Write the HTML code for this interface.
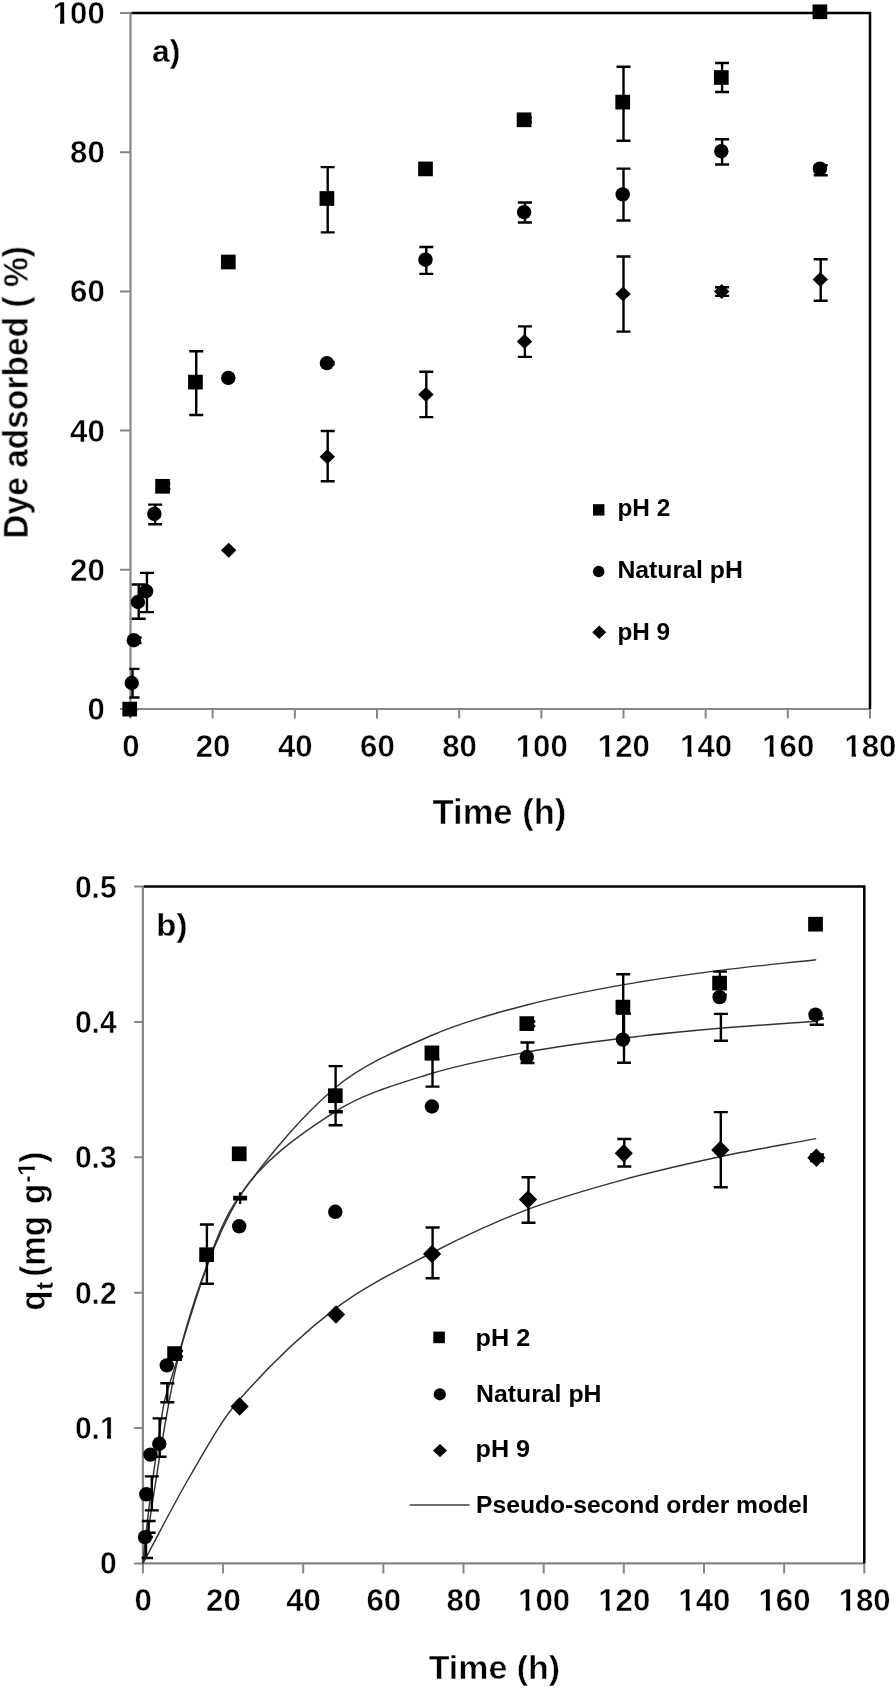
<!DOCTYPE html>
<html><head><meta charset="utf-8"><title>chart</title>
<style>html,body{margin:0;padding:0;background:#fff}svg{display:block}text{font-family:"Liberation Sans",sans-serif;fill:#000}</style>
</head><body>
<svg width="896" height="1688" viewBox="0 0 896 1688">
<defs>
<clipPath id="cpA"><rect x="129.3" y="0" width="760" height="730"/></clipPath>
<clipPath id="cpB"><rect x="141.7" y="870" width="760" height="720"/></clipPath>
<clipPath id="c1f"><path d="M-5 -40H200V-4.1H-5ZM7.0 -4.3H11.12V2H7.0ZM16.7 -4.3H200V12H16.7Z"/></clipPath>
<clipPath id="c1l"><path d="M-5 -40H200V-4.1H-5ZM-5 -4.3H25.2V12H-5ZM32.02 -4.3H36.14V2H32.02Z"/></clipPath>
</defs>
<filter id="soft" x="0" y="0" width="896" height="1688" filterUnits="userSpaceOnUse"><feGaussianBlur stdDeviation="0.7"/></filter>
<rect width="896" height="1688" fill="#fff"/>
<g filter="url(#soft)">
<g id="plotA">
<path d="M130.5 12.0V710.0" stroke="#868686" stroke-width="2.2" fill="none"/>
<path d="M129.5 709.0H870.0" stroke="#868686" stroke-width="2.2" fill="none"/>
<path d="M120.0 709.00H130.5M120.0 569.80H130.5M120.0 430.60H130.5M120.0 291.40H130.5M120.0 152.20H130.5M120.0 13.00H130.5M130.50 709.0V718.5M212.67 709.0V718.5M294.83 709.0V718.5M377.00 709.0V718.5M459.17 709.0V718.5M541.33 709.0V718.5M623.50 709.0V718.5M705.67 709.0V718.5M787.83 709.0V718.5M870.00 709.0V718.5" stroke="#868686" stroke-width="2" fill="none"/>
<path d="M131.5 13.0H870.0V709.0" stroke="#000" stroke-width="2.5" fill="none" stroke-linejoin="miter"/>
<text transform="translate(87.45,719.90) scale(1.0400,1.0300)" font-size="30" font-weight="bold" stroke="#fff" stroke-width="0.45">0</text>
<text transform="translate(70.10,580.70) scale(1.0400,1.0300)" font-size="30" font-weight="bold" stroke="#fff" stroke-width="0.45">20</text>
<text transform="translate(70.10,441.50) scale(1.0400,1.0300)" font-size="30" font-weight="bold" stroke="#fff" stroke-width="0.45">40</text>
<text transform="translate(70.10,302.30) scale(1.0400,1.0300)" font-size="30" font-weight="bold" stroke="#fff" stroke-width="0.45">60</text>
<text transform="translate(70.10,163.10) scale(1.0400,1.0300)" font-size="30" font-weight="bold" stroke="#fff" stroke-width="0.45">80</text>
<text transform="translate(52.75,23.90) scale(1.0400,1.0300)" font-size="30" font-weight="bold" clip-path="url(#c1f)" stroke="#fff" stroke-width="0.45">100</text>
<text transform="translate(122.22,756.80) scale(1.0400,1.0300)" font-size="30" font-weight="bold" stroke="#fff" stroke-width="0.45">0</text>
<text transform="translate(195.72,756.80) scale(1.0400,1.0300)" font-size="30" font-weight="bold" stroke="#fff" stroke-width="0.45">20</text>
<text transform="translate(277.88,756.80) scale(1.0400,1.0300)" font-size="30" font-weight="bold" stroke="#fff" stroke-width="0.45">40</text>
<text transform="translate(360.05,756.80) scale(1.0400,1.0300)" font-size="30" font-weight="bold" stroke="#fff" stroke-width="0.45">60</text>
<text transform="translate(442.22,756.80) scale(1.0400,1.0300)" font-size="30" font-weight="bold" stroke="#fff" stroke-width="0.45">80</text>
<text transform="translate(515.71,756.80) scale(1.0400,1.0300)" font-size="30" font-weight="bold" clip-path="url(#c1f)" stroke="#fff" stroke-width="0.45">100</text>
<text transform="translate(597.87,756.80) scale(1.0400,1.0300)" font-size="30" font-weight="bold" clip-path="url(#c1f)" stroke="#fff" stroke-width="0.45">120</text>
<text transform="translate(680.04,756.80) scale(1.0400,1.0300)" font-size="30" font-weight="bold" clip-path="url(#c1f)" stroke="#fff" stroke-width="0.45">140</text>
<text transform="translate(762.21,756.80) scale(1.0400,1.0300)" font-size="30" font-weight="bold" clip-path="url(#c1f)" stroke="#fff" stroke-width="0.45">160</text>
<text transform="translate(844.37,756.80) scale(1.0400,1.0300)" font-size="30" font-weight="bold" clip-path="url(#c1f)" stroke="#fff" stroke-width="0.45">180</text>
<text transform="translate(432.55,823.80) scale(1.1522,1.1401)" font-size="30.0" font-weight="bold" stroke="#fff" stroke-width="0.45">Time (h)</text>
<text transform="translate(27.3,538.68) rotate(-90) scale(1.1185,1.1787)" font-size="30.0" font-weight="bold" stroke="#fff" stroke-width="0.45">Dye adsorbed ( %)</text>
<text transform="translate(152.04,61.60) scale(1.0617,1.0725)" font-size="30.0" font-weight="bold" stroke="#fff" stroke-width="0.3">a)</text>
<path d="M130.10 702.50L137.80 710.00L130.10 717.50L122.40 710.00Z" fill="#000"/>
<path d="M228.70 542.70L236.40 550.20L228.70 557.70L221.00 550.20Z" fill="#000"/>
<path clip-path="url(#cpA)" d="M327.70 431.00V481.20M320.70 431.00H334.70M320.70 481.20H334.70" stroke="#000" stroke-width="2.4" fill="none"/>
<path d="M327.30 449.30L335.00 456.80L327.30 464.30L319.60 456.80Z" fill="#000"/>
<path clip-path="url(#cpA)" d="M426.30 371.80V417.10M419.30 371.80H433.30M419.30 417.10H433.30" stroke="#000" stroke-width="2.4" fill="none"/>
<path d="M425.90 386.90L433.60 394.40L425.90 401.90L418.20 394.40Z" fill="#000"/>
<path clip-path="url(#cpA)" d="M524.90 326.40V356.90M517.90 326.40H531.90M517.90 356.90H531.90" stroke="#000" stroke-width="2.4" fill="none"/>
<path d="M524.50 334.00L532.20 341.50L524.50 349.00L516.80 341.50Z" fill="#000"/>
<path clip-path="url(#cpA)" d="M623.50 256.50V331.60M616.50 256.50H630.50M616.50 331.60H630.50" stroke="#000" stroke-width="2.4" fill="none"/>
<path d="M623.10 286.40L630.80 293.90L623.10 301.40L615.40 293.90Z" fill="#000"/>
<path clip-path="url(#cpA)" d="M722.10 287.20V295.90M715.10 287.20H729.10M715.10 295.90H729.10" stroke="#000" stroke-width="2.4" fill="none"/>
<path d="M721.70 284.10L729.40 291.60L721.70 299.10L714.00 291.60Z" fill="#000"/>
<path clip-path="url(#cpA)" d="M820.70 259.30V300.70M813.70 259.30H827.70M813.70 300.70H827.70" stroke="#000" stroke-width="2.4" fill="none"/>
<path d="M820.30 272.10L828.00 279.60L820.30 287.10L812.60 279.60Z" fill="#000"/>
<path clip-path="url(#cpA)" d="M132.55 668.90V697.50M125.55 668.90H139.55M125.55 697.50H139.55" stroke="#000" stroke-width="2.4" fill="none"/>
<circle cx="131.75" cy="683.00" r="7.2" fill="#000"/>
<path clip-path="url(#cpA)" d="M134.61 637.50V643.00M127.61 637.50H141.61M127.61 643.00H141.61" stroke="#000" stroke-width="2.4" fill="none"/>
<circle cx="133.81" cy="640.20" r="7.2" fill="#000"/>
<path clip-path="url(#cpA)" d="M138.72 584.50V618.75M131.72 584.50H145.72M131.72 618.75H145.72" stroke="#000" stroke-width="2.4" fill="none"/>
<circle cx="137.92" cy="602.00" r="7.2" fill="#000"/>
<path clip-path="url(#cpA)" d="M146.93 572.90V612.10M139.93 572.90H153.93M139.93 612.10H153.93" stroke="#000" stroke-width="2.4" fill="none"/>
<circle cx="146.13" cy="591.25" r="7.2" fill="#000"/>
<path clip-path="url(#cpA)" d="M155.15 504.60V524.30M148.15 504.60H162.15M148.15 524.30H162.15" stroke="#000" stroke-width="2.4" fill="none"/>
<circle cx="154.35" cy="513.90" r="7.2" fill="#000"/>
<circle cx="228.30" cy="377.90" r="7.2" fill="#000"/>
<path clip-path="url(#cpA)" d="M327.70 362.00V364.40M320.70 362.00H334.70M320.70 364.40H334.70" stroke="#000" stroke-width="2.4" fill="none"/>
<circle cx="326.90" cy="363.10" r="7.2" fill="#000"/>
<path clip-path="url(#cpA)" d="M426.30 247.00V273.90M419.30 247.00H433.30M419.30 273.90H433.30" stroke="#000" stroke-width="2.4" fill="none"/>
<circle cx="425.50" cy="259.70" r="7.2" fill="#000"/>
<path clip-path="url(#cpA)" d="M524.90 202.50V222.50M517.90 202.50H531.90M517.90 222.50H531.90" stroke="#000" stroke-width="2.4" fill="none"/>
<circle cx="524.10" cy="212.10" r="7.2" fill="#000"/>
<path clip-path="url(#cpA)" d="M623.50 168.60V220.50M616.50 168.60H630.50M616.50 220.50H630.50" stroke="#000" stroke-width="2.4" fill="none"/>
<circle cx="622.70" cy="194.40" r="7.2" fill="#000"/>
<path clip-path="url(#cpA)" d="M722.10 139.30V164.50M715.10 139.30H729.10M715.10 164.50H729.10" stroke="#000" stroke-width="2.4" fill="none"/>
<circle cx="721.30" cy="151.20" r="7.2" fill="#000"/>
<path clip-path="url(#cpA)" d="M820.70 165.20V175.30M813.70 165.20H827.70M813.70 175.30H827.70" stroke="#000" stroke-width="2.4" fill="none"/>
<circle cx="819.90" cy="168.70" r="7.2" fill="#000"/>
<rect x="122.35" y="701.75" width="14.7" height="14.7" fill="#000"/>
<path clip-path="url(#cpA)" d="M163.37 483.50V489.00M156.37 483.50H170.37M156.37 489.00H170.37" stroke="#000" stroke-width="2.4" fill="none"/>
<rect x="155.22" y="478.95" width="14.7" height="14.7" fill="#000"/>
<path clip-path="url(#cpA)" d="M196.23 351.30V415.00M189.23 351.30H203.23M189.23 415.00H203.23" stroke="#000" stroke-width="2.4" fill="none"/>
<rect x="188.08" y="374.75" width="14.7" height="14.7" fill="#000"/>
<rect x="220.95" y="254.65" width="14.7" height="14.7" fill="#000"/>
<path clip-path="url(#cpA)" d="M327.70 167.10V232.40M320.70 167.10H334.70M320.70 232.40H334.70" stroke="#000" stroke-width="2.4" fill="none"/>
<rect x="319.55" y="191.15" width="14.7" height="14.7" fill="#000"/>
<rect x="418.15" y="161.55" width="14.7" height="14.7" fill="#000"/>
<path clip-path="url(#cpA)" d="M524.90 117.60V122.00M517.90 117.60H531.90M517.90 122.00H531.90" stroke="#000" stroke-width="2.4" fill="none"/>
<rect x="516.75" y="112.45" width="14.7" height="14.7" fill="#000"/>
<path clip-path="url(#cpA)" d="M623.50 66.70V140.70M616.50 66.70H630.50M616.50 140.70H630.50" stroke="#000" stroke-width="2.4" fill="none"/>
<rect x="615.35" y="94.75" width="14.7" height="14.7" fill="#000"/>
<path clip-path="url(#cpA)" d="M722.10 63.00V92.00M715.10 63.00H729.10M715.10 92.00H729.10" stroke="#000" stroke-width="2.4" fill="none"/>
<rect x="713.95" y="70.15" width="14.7" height="14.7" fill="#000"/>
<rect x="812.55" y="4.45" width="14.7" height="14.7" fill="#000"/>
<rect x="593.00" y="504.20" width="11.4" height="11.4" fill="#000"/>
<circle cx="598.70" cy="571.50" r="5.8" fill="#000"/>
<path d="M599.20 625.50L606.20 632.20L599.20 638.90L592.20 632.20Z" fill="#000"/>
<text transform="translate(617.41,515.90) scale(0.8139,0.7681)" font-size="30.0" font-weight="bold"  >pH 2</text>
<text transform="translate(617.39,578.40) scale(0.8271,0.7681)" font-size="30.0" font-weight="bold"  >Natural pH</text>
<text transform="translate(617.42,639.70) scale(0.8119,0.7681)" font-size="30.0" font-weight="bold"  >pH 9</text>
</g>
<g id="plotB">
<path d="M142.9 885.6V1564.4" stroke="#868686" stroke-width="2.2" fill="none"/>
<path d="M141.9 1563.4H864.3" stroke="#868686" stroke-width="2.2" fill="none"/>
<path d="M134.1 1563.40H142.9M134.1 1428.04H142.9M134.1 1292.68H142.9M134.1 1157.32H142.9M134.1 1021.96H142.9M134.1 886.60H142.9M142.90 1563.4V1573.4M223.06 1563.4V1573.4M303.21 1563.4V1573.4M383.37 1563.4V1573.4M463.52 1563.4V1573.4M543.68 1563.4V1573.4M623.83 1563.4V1573.4M703.99 1563.4V1573.4M784.14 1563.4V1573.4M864.30 1563.4V1573.4" stroke="#868686" stroke-width="2" fill="none"/>
<path d="M143.9 886.6H864.3V1563.4" stroke="#000" stroke-width="2.5" fill="none"/>
<text transform="translate(99.92,1574.30) scale(1.0000,1.0300)" font-size="30" font-weight="bold" stroke="#fff" stroke-width="0.45">0</text>
<text transform="translate(74.90,1438.94) scale(1.0000,1.0300)" font-size="30" font-weight="bold" clip-path="url(#c1l)" stroke="#fff" stroke-width="0.45">0.1</text>
<text transform="translate(74.90,1303.58) scale(1.0000,1.0300)" font-size="30" font-weight="bold" stroke="#fff" stroke-width="0.45">0.2</text>
<text transform="translate(74.90,1168.22) scale(1.0000,1.0300)" font-size="30" font-weight="bold" stroke="#fff" stroke-width="0.45">0.3</text>
<text transform="translate(74.90,1032.86) scale(1.0000,1.0300)" font-size="30" font-weight="bold" stroke="#fff" stroke-width="0.45">0.4</text>
<text transform="translate(74.90,897.50) scale(1.0000,1.0300)" font-size="30" font-weight="bold" stroke="#fff" stroke-width="0.45">0.5</text>
<text transform="translate(134.62,1611.00) scale(1.0400,1.0300)" font-size="30" font-weight="bold" stroke="#fff" stroke-width="0.45">0</text>
<text transform="translate(206.11,1611.00) scale(1.0400,1.0300)" font-size="30" font-weight="bold" stroke="#fff" stroke-width="0.45">20</text>
<text transform="translate(286.26,1611.00) scale(1.0400,1.0300)" font-size="30" font-weight="bold" stroke="#fff" stroke-width="0.45">40</text>
<text transform="translate(366.42,1611.00) scale(1.0400,1.0300)" font-size="30" font-weight="bold" stroke="#fff" stroke-width="0.45">60</text>
<text transform="translate(446.57,1611.00) scale(1.0400,1.0300)" font-size="30" font-weight="bold" stroke="#fff" stroke-width="0.45">80</text>
<text transform="translate(518.05,1611.00) scale(1.0400,1.0300)" font-size="30" font-weight="bold" clip-path="url(#c1f)" stroke="#fff" stroke-width="0.45">100</text>
<text transform="translate(598.21,1611.00) scale(1.0400,1.0300)" font-size="30" font-weight="bold" clip-path="url(#c1f)" stroke="#fff" stroke-width="0.45">120</text>
<text transform="translate(678.36,1611.00) scale(1.0400,1.0300)" font-size="30" font-weight="bold" clip-path="url(#c1f)" stroke="#fff" stroke-width="0.45">140</text>
<text transform="translate(758.52,1611.00) scale(1.0400,1.0300)" font-size="30" font-weight="bold" clip-path="url(#c1f)" stroke="#fff" stroke-width="0.45">160</text>
<text transform="translate(838.67,1611.00) scale(1.0400,1.0300)" font-size="30" font-weight="bold" clip-path="url(#c1f)" stroke="#fff" stroke-width="0.45">180</text>
<text transform="translate(428.66,1678.90) scale(1.1321,1.1304)" font-size="30.0" font-weight="bold" stroke="#fff" stroke-width="0.45">Time (h)</text>
<text transform="translate(156.36,935.90) scale(1.0964,1.0725)" font-size="30.0" font-weight="bold" stroke="#fff" stroke-width="0.3">b)</text>
<text transform="translate(45.30,1310.41) rotate(-90) scale(1.0891,1.1440)" font-size="30" font-weight="bold" stroke="#fff" stroke-width="0.45">q</text>
<text transform="translate(53.00,1289.64) rotate(-90) scale(0.7849,0.7667)" font-size="30" font-weight="bold" stroke="#fff" stroke-width="0.45">t</text>
<text transform="translate(45.30,1276.86) rotate(-90) scale(1.1059,1.1440)" font-size="30" font-weight="bold" stroke="#fff" stroke-width="0.45">(mg</text>
<text transform="translate(45.30,1203.92) rotate(-90) scale(1.1023,1.1440)" font-size="30" font-weight="bold" stroke="#fff" stroke-width="0.45">g</text>
<text transform="translate(35.20,1182.43) rotate(-90) scale(0.6928,0.7667)" font-size="30" font-weight="bold" stroke="#fff" stroke-width="0.45">-</text>
<text transform="translate(35.20,1176.04) rotate(-90) scale(0.8493,0.7667)" font-size="30" font-weight="bold" clip-path="url(#c1f)" stroke="#fff" stroke-width="0.45">1</text>
<text transform="translate(45.30,1162.87) rotate(-90) scale(1.1071,1.1440)" font-size="30" font-weight="bold" stroke="#fff" stroke-width="0.45">)</text>
<path d="M142.90 1563.40C153.59 1499.59 161.39 1435.11 174.96 1371.96C182.77 1335.63 194.27 1299.85 207.02 1264.97C215.64 1241.41 224.47 1216.85 239.09 1196.65C267.22 1157.77 298.70 1118.39 335.27 1087.75C362.83 1064.67 398.10 1049.88 431.46 1035.50C462.23 1022.24 495.15 1013.41 527.65 1004.82C559.28 996.46 591.60 990.42 623.83 984.64C655.73 978.93 687.88 974.52 720.02 970.36C752.00 966.21 784.14 963.26 816.21 959.71" stroke="#333" stroke-width="1.45" fill="none"/>
<path d="M142.90 1563.40C143.57 1556.91 144.21 1550.41 144.90 1543.92C145.55 1537.84 146.20 1531.76 146.91 1525.69C148.20 1514.63 149.42 1503.55 150.92 1492.52C153.43 1473.94 155.98 1455.36 158.93 1436.85C161.32 1421.85 162.14 1406.36 166.95 1391.98C188.86 1326.48 204.45 1254.90 239.09 1197.22C260.56 1161.46 299.72 1134.53 335.27 1111.67C363.85 1093.30 398.62 1083.73 431.46 1073.53C462.75 1063.81 495.36 1057.89 527.65 1051.93C559.48 1046.06 591.69 1041.98 623.83 1038.04C655.81 1034.12 687.92 1031.15 720.02 1028.34C752.05 1025.54 784.14 1023.58 816.21 1021.20" stroke="#333" stroke-width="1.45" fill="none"/>
<path d="M142.90 1563.40C158.93 1533.77 173.91 1503.51 190.99 1474.50C205.97 1449.06 219.83 1422.20 239.09 1400.05C267.93 1366.89 300.36 1335.25 335.27 1308.57C364.49 1286.23 398.58 1269.94 431.46 1253.00C462.71 1236.90 494.83 1221.97 527.65 1209.44C558.95 1197.50 591.47 1188.45 623.83 1179.59C655.60 1170.88 687.80 1163.57 720.02 1156.71C751.92 1149.92 784.14 1144.66 816.21 1138.63" stroke="#333" stroke-width="1.45" fill="none"/>
<path clip-path="url(#cpB)" d="M146.00 1537.00V1558.00M139.00 1537.00H153.00M139.00 1558.00H153.00" stroke="#000" stroke-width="2.4" fill="none"/>
<path clip-path="url(#cpB)" d="M148.60 1521.00V1532.70M141.60 1521.00H155.60M141.60 1532.70H155.60" stroke="#000" stroke-width="2.4" fill="none"/>
<path clip-path="url(#cpB)" d="M151.80 1476.40V1510.40M144.80 1476.40H158.80M144.80 1510.40H158.80" stroke="#000" stroke-width="2.4" fill="none"/>
<path clip-path="url(#cpB)" d="M159.60 1418.40V1456.80M152.60 1418.40H166.60M152.60 1456.80H166.60" stroke="#000" stroke-width="2.4" fill="none"/>
<path clip-path="url(#cpB)" d="M167.30 1383.20V1402.30M160.30 1383.20H174.30M160.30 1402.30H174.30" stroke="#000" stroke-width="2.4" fill="none"/>
<path clip-path="url(#cpB)" d="M240.10 1197.00V1199.40M233.10 1197.00H247.10M233.10 1199.40H247.10" stroke="#000" stroke-width="2.4" fill="none"/>
<path clip-path="url(#cpB)" d="M335.80 1111.30V1112.30M328.80 1111.30H342.80M328.80 1112.30H342.80" stroke="#000" stroke-width="2.4" fill="none"/>
<path clip-path="url(#cpB)" d="M432.50 1059.40V1086.60M425.50 1059.40H439.50M425.50 1086.60H439.50" stroke="#000" stroke-width="2.4" fill="none"/>
<path clip-path="url(#cpB)" d="M527.50 1042.50V1063.00M520.50 1042.50H534.50M520.50 1063.00H534.50" stroke="#000" stroke-width="2.4" fill="none"/>
<path clip-path="url(#cpB)" d="M624.00 1013.60V1062.80M617.00 1013.60H631.00M617.00 1062.80H631.00" stroke="#000" stroke-width="2.4" fill="none"/>
<path clip-path="url(#cpB)" d="M720.90 1013.90V1040.70M713.90 1013.90H727.90M713.90 1040.70H727.90" stroke="#000" stroke-width="2.4" fill="none"/>
<path clip-path="url(#cpB)" d="M816.80 1018.50V1024.70M809.80 1018.50H823.80M809.80 1024.70H823.80" stroke="#000" stroke-width="2.4" fill="none"/>
<path d="M240.1 1192.3V1204" stroke="#000" stroke-width="2.4"/>
<path d="M239.60 1397.10L248.70 1406.40L239.60 1415.70L230.50 1406.40Z" fill="#000"/>
<path d="M336.00 1305.20L345.10 1314.50L336.00 1323.80L326.90 1314.50Z" fill="#000"/>
<path clip-path="url(#cpB)" d="M432.60 1227.50V1278.20M425.60 1227.50H439.60M425.60 1278.20H439.60" stroke="#000" stroke-width="2.4" fill="none"/>
<path d="M432.10 1244.70L441.20 1254.00L432.10 1263.30L423.00 1254.00Z" fill="#000"/>
<path clip-path="url(#cpB)" d="M528.50 1177.30V1222.80M521.50 1177.30H535.50M521.50 1222.80H535.50" stroke="#000" stroke-width="2.4" fill="none"/>
<path d="M528.00 1190.20L537.10 1199.50L528.00 1208.80L518.90 1199.50Z" fill="#000"/>
<path clip-path="url(#cpB)" d="M624.30 1139.00V1166.50M617.30 1139.00H631.30M617.30 1166.50H631.30" stroke="#000" stroke-width="2.4" fill="none"/>
<path d="M623.80 1143.90L632.90 1153.20L623.80 1162.50L614.70 1153.20Z" fill="#000"/>
<path clip-path="url(#cpB)" d="M720.80 1112.10V1187.20M713.80 1112.10H727.80M713.80 1187.20H727.80" stroke="#000" stroke-width="2.4" fill="none"/>
<path d="M720.30 1140.70L729.40 1150.00L720.30 1159.30L711.20 1150.00Z" fill="#000"/>
<path clip-path="url(#cpB)" d="M816.90 1154.50V1161.00M809.90 1154.50H823.90M809.90 1161.00H823.90" stroke="#000" stroke-width="2.4" fill="none"/>
<path d="M816.40 1148.50L825.50 1157.80L816.40 1167.10L807.30 1157.80Z" fill="#000"/>
<circle cx="145.00" cy="1537.10" r="7.2" fill="#000"/>
<circle cx="146.30" cy="1494.30" r="7.2" fill="#000"/>
<circle cx="150.40" cy="1454.60" r="7.2" fill="#000"/>
<circle cx="159.30" cy="1443.75" r="7.2" fill="#000"/>
<circle cx="166.80" cy="1365.40" r="7.2" fill="#000"/>
<circle cx="239.20" cy="1226.30" r="7.2" fill="#000"/>
<circle cx="335.30" cy="1211.80" r="7.2" fill="#000"/>
<circle cx="431.90" cy="1106.50" r="7.2" fill="#000"/>
<circle cx="526.80" cy="1057.00" r="7.2" fill="#000"/>
<circle cx="622.90" cy="1039.60" r="7.2" fill="#000"/>
<circle cx="719.60" cy="997.10" r="7.2" fill="#000"/>
<circle cx="815.50" cy="1014.70" r="7.2" fill="#000"/>
<path clip-path="url(#cpB)" d="M176.10 1351.00V1356.50M169.10 1351.00H183.10M169.10 1356.50H183.10" stroke="#000" stroke-width="2.4" fill="none"/>
<rect x="167.25" y="1346.25" width="14.7" height="14.7" fill="#000"/>
<path clip-path="url(#cpB)" d="M206.90 1224.50V1283.80M199.90 1224.50H213.90M199.90 1283.80H213.90" stroke="#000" stroke-width="2.4" fill="none"/>
<rect x="199.25" y="1247.35" width="14.7" height="14.7" fill="#000"/>
<rect x="231.85" y="1146.45" width="14.7" height="14.7" fill="#000"/>
<path clip-path="url(#cpB)" d="M335.60 1066.10V1125.20M328.60 1066.10H342.60M328.60 1125.20H342.60" stroke="#000" stroke-width="2.4" fill="none"/>
<rect x="327.95" y="1088.35" width="14.7" height="14.7" fill="#000"/>
<rect x="424.55" y="1045.55" width="14.7" height="14.7" fill="#000"/>
<path clip-path="url(#cpB)" d="M528.30 1021.50V1026.00M521.30 1021.50H535.30M521.30 1026.00H535.30" stroke="#000" stroke-width="2.4" fill="none"/>
<rect x="519.45" y="1016.25" width="14.7" height="14.7" fill="#000"/>
<path clip-path="url(#cpB)" d="M623.20 974.30V1040.00M616.20 974.30H630.20M616.20 1040.00H630.20" stroke="#000" stroke-width="2.4" fill="none"/>
<rect x="615.55" y="999.75" width="14.7" height="14.7" fill="#000"/>
<path clip-path="url(#cpB)" d="M719.90 971.60V994.60M712.90 971.60H726.90M712.90 994.60H726.90" stroke="#000" stroke-width="2.4" fill="none"/>
<rect x="712.25" y="975.75" width="14.7" height="14.7" fill="#000"/>
<rect x="808.15" y="916.85" width="14.7" height="14.7" fill="#000"/>
<rect x="433.30" y="1331.60" width="11.6" height="11.6" fill="#000"/>
<circle cx="439.80" cy="1394.30" r="6.1" fill="#000"/>
<path d="M440.00 1444.00L447.00 1450.60L440.00 1457.20L433.00 1450.60Z" fill="#000"/>
<path d="M409.8 1505H469.6" stroke="#3c3c3c" stroke-width="1.6"/>
<text transform="translate(475.56,1345.50) scale(0.8414,0.7729)" font-size="30.0" font-weight="bold"  >pH 2</text>
<text transform="translate(475.99,1401.70) scale(0.8277,0.7729)" font-size="30.0" font-weight="bold"  >Natural pH</text>
<text transform="translate(475.56,1456.90) scale(0.8394,0.7729)" font-size="30.0" font-weight="bold"  >pH 9</text>
<text transform="translate(476.10,1513.30) scale(0.8215,0.7826)" font-size="30.0" font-weight="bold"  >Pseudo-second order model</text>
</g>
</g></svg></body></html>
